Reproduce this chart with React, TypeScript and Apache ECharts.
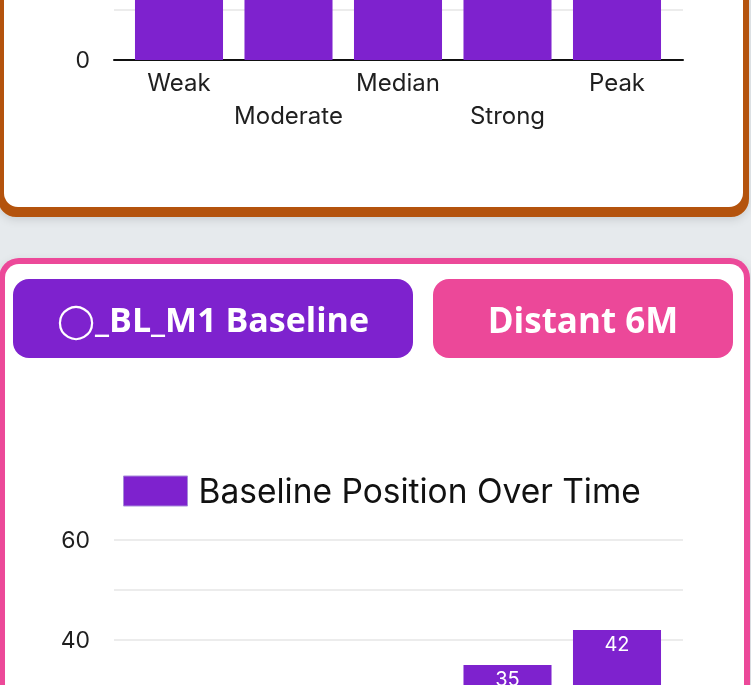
import React, { useEffect, useRef } from "react";
import * as echarts from "echarts";

const categories = ["Weak", "Moderate", "Median", "Strong", "Peak"];
const topValues = [22, 26, 30, 35, 42];
const baselineValues = [18, 24, 29, 35, 42];
const legendName = "Baseline Position Over Time";
const buttonLeft = "◯_BL_M1 Baseline";
const buttonRight = "Distant 6M";

const PURPLE = "#7e22ce";
const PINK = "#ec4899";
const ORANGE = "#b45309";
const FONT = "Inter, 'Noto Sans', sans-serif";

export default function App() {
  const ref = useRef<HTMLDivElement>(null);
  useEffect(() => {
    if (!ref.current) return;
    const chart = echarts.init(ref.current, null, { renderer: "svg" });

    const LINE_LEFT = 114, LINE_W = 569;
    const BAR_LEFT = 124.25, BAR_W = 547.5;
    const tops = [-240, 540];

    const grids: any[] = [];
    const xAxes: any[] = [];
    const yAxes: any[] = [];
    tops.forEach((top, k) => {
      // frame grid: split lines, y labels, x axis line
      grids.push({ left: LINE_LEFT, width: LINE_W, top, height: 300, outerBoundsMode: "none", containLabel: false });
      // bar grid: bars and category labels
      grids.push({ left: BAR_LEFT, width: BAR_W, top, height: 300, outerBoundsMode: "none", containLabel: false });
      const gFrame = k * 2, gBar = k * 2 + 1;
      xAxes.push({
        type: "category", gridIndex: gFrame, data: categories,
        axisLine: { lineStyle: { color: "#111111", width: 2 } },
        axisTick: { show: false }, axisLabel: { show: false },
      });
      xAxes.push({
        type: "category", gridIndex: gBar, data: categories,
        axisLine: { show: false }, axisTick: { show: false },
        axisLabel: {
          fontSize: 24, color: "#1f1f1f", fontFamily: FONT, margin: 6, lineHeight: 33, interval: 0,
          formatter: (v: string, i: number) => (i % 2 === 1 ? "\n" + v : v),
        },
      });
      yAxes.push({
        type: "value", gridIndex: gFrame, min: 0, max: 60, interval: 10,
        axisLine: { show: false }, axisTick: { show: false },
        splitLine: { lineStyle: { color: "#e6e6e6", width: 1.5 } },
        axisLabel: {
          fontSize: 23, color: "#1f1f1f", fontFamily: FONT, margin: 24,
          formatter: (v: number) => {
            if (v % 20 !== 0) return "";
            if (k === 0 && v !== 0) return ""; // above the visible page
            return String(v);
          },
        },
      });
      yAxes.push({
        type: "value", gridIndex: gBar, min: 0, max: 60, interval: 10, show: false,
      });
    });

    chart.setOption({
      animation: false,
      textStyle: { fontFamily: FONT },
      graphic: [
        { type: "rect", z: -100, shape: { x: 0, y: 0, width: 751, height: 685 }, style: { fill: "#e6eaed" } },
        {
          type: "rect", z: -90,
          shape: { x: -2, y: -40, width: 751, height: 257, r: 18 },
          style: { fill: ORANGE, shadowBlur: 8, shadowColor: "rgba(0,0,0,0.12)", shadowOffsetY: 3 },
        },
        { type: "rect", z: -80, shape: { x: 4, y: -40, width: 739, height: 247, r: 14 }, style: { fill: "#ffffff" } },
        {
          type: "rect", z: -90,
          shape: { x: -1, y: 258, width: 751, height: 500, r: 20 },
          style: { fill: PINK, shadowBlur: 8, shadowColor: "rgba(0,0,0,0.12)", shadowOffsetY: 3 },
        },
        { type: "rect", z: -80, shape: { x: 5, y: 264, width: 739, height: 480, r: 14 }, style: { fill: "#ffffff" } },
        { type: "rect", z: -70, shape: { x: 13, y: 279, width: 400, height: 79, r: 16 }, style: { fill: PURPLE } },
        { type: "rect", z: -70, shape: { x: 433, y: 279, width: 300, height: 79, r: 16 }, style: { fill: PINK } },
        {
          type: "text", z: 50, x: 213, y: 319,
          style: {
            text: buttonLeft, fill: "#ffffff", font: "bold 34px 'Open Sans', 'DejaVu Sans', sans-serif",
            textAlign: "center", textVerticalAlign: "middle",
          },
        },
        {
          type: "text", z: 50, x: 583, y: 319,
          style: {
            text: buttonRight, fill: "#ffffff", font: "bold 35px 'Open Sans', sans-serif",
            textAlign: "center", textVerticalAlign: "middle",
          },
        },
      ],
      legend: {
        data: [legendName],
        top: 469,
        left: 118,
        itemWidth: 64,
        itemHeight: 30,
        itemGap: 10,
        itemStyle: { borderRadius: 4, borderColor: "#a78bda", borderWidth: 1 },
        textStyle: { fontSize: 33.5, color: "#111111", fontFamily: FONT, padding: [0, 0, 0, 6] },
        icon: "rect",
      },
      grid: grids,
      xAxis: xAxes,
      yAxis: yAxes,
      series: [
        {
          type: "bar", xAxisIndex: 1, yAxisIndex: 1, data: topValues,
          barWidth: "80.4%", itemStyle: { color: PURPLE },
        },
        {
          name: legendName, type: "bar", xAxisIndex: 3, yAxisIndex: 3, data: baselineValues,
          barWidth: "80.4%", itemStyle: { color: PURPLE },
          label: {
            show: true, position: "insideTop", distance: 4, color: "#ffffff", fontSize: 20, fontFamily: FONT,
          },
        },
      ],
    });
    return () => chart.dispose();
  }, []);
  return (
    <div
      ref={ref}
      style={{ position: "fixed", left: 0, top: 0, width: 751, height: 685 }}
    />
  );
}
